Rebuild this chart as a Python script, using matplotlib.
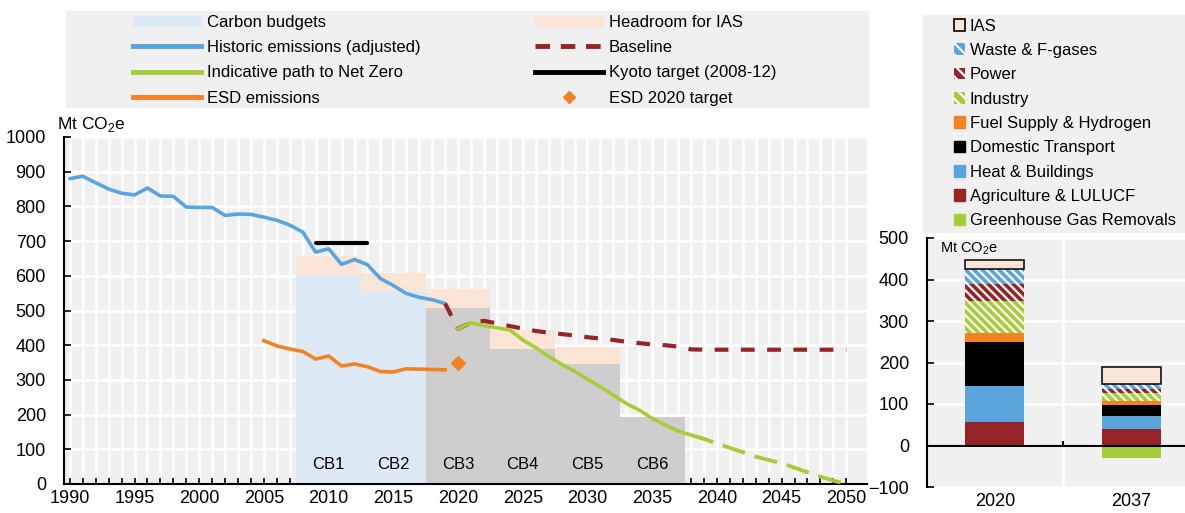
import numpy as np
import matplotlib
matplotlib.use("Agg")
import matplotlib.pyplot as plt
from matplotlib.patches import Patch, Rectangle
from matplotlib.lines import Line2D

plt.rcParams["font.family"] = ["Liberation Sans", "DejaVu Sans"]
plt.rcParams["mathtext.fontset"] = "custom"
plt.rcParams["mathtext.rm"] = "Liberation Sans"
plt.rcParams["hatch.linewidth"] = 1.6
plt.rcParams["hatch.color"] = "white"

# ---- data: left panel ----
hist_years = list(range(1990, 2020))
hist = [880, 887, 868, 850, 838, 833, 853, 830, 829, 798, 797, 797, 774, 778, 777,
        769, 760, 746, 726, 668, 678, 633, 647, 632, 592, 572, 549, 538, 531, 520]

base_years = list(range(2019, 2051))
baseline = [520, 447, 465, 470, 463, 455, 448, 441, 436, 432, 428, 423, 419, 415, 410,
            406, 402, 400, 396, 388, 387, 387, 387, 387, 387, 387, 387, 387, 387, 387,
            387, 387]

path_years = list(range(2020, 2039))
path = [447, 465, 456, 450, 444, 415, 393, 368, 345, 325, 302, 280, 256, 232, 213,
        189, 170, 153, 141]
path_ext_years = list(range(2038, 2051))
path_ext = [141, 130, 117, 104, 92, 79, 69, 60, 47, 34, 21, 10, 0]

esd_years = list(range(2005, 2020))
esd = [413, 398, 389, 382, 360, 369, 340, 346, 338, 324, 323, 332, 331, 330, 329]
esd_target_year = 2020
esd_target = 350

kyoto_years = [2009, 2013]
kyoto = [695, 695]

cb_labels = ["CB1", "CB2", "CB3", "CB4", "CB5", "CB6"]
cb_mid = [2010, 2015, 2020, 2025, 2030, 2035]
cb_values = [603, 555, 508, 390, 345, 193]
ias_headroom = [54, 53, 55, 53, 50, 0]
cb_past = [True, True, False, False, False, False]

# ---- data: right panel ----
bar_years = ["2020", "2037"]
sectors = ["Agriculture & LULUCF", "Heat & Buildings", "Domestic Transport",
           "Fuel Supply & Hydrogen", "Industry", "Power", "Waste & F-gases", "IAS"]
v2020 = [57, 87, 106, 22, 75, 41, 37, 21]
v2037 = [40, 32, 26, 9, 19, 10, 12, 42]
ggr = [0, -31]

# colours
BLUE = "#5aa5dd"
GREEN = "#a5cd39"
ORANGE = "#f58220"
DRED = "#952327"
CB_BLUE = "#dde9f5"
PINK = "#fbe5d6"
GREY = "#cfcdce"
BG = "#f0f0f0"
HATCH = "\\\\\\\\"

sector_style = {
    "Agriculture & LULUCF": dict(color=DRED),
    "Heat & Buildings": dict(color=BLUE),
    "Domestic Transport": dict(color="black"),
    "Fuel Supply & Hydrogen": dict(color=ORANGE),
    "Industry": dict(color=GREEN, hatch=HATCH),
    "Power": dict(color=DRED, hatch=HATCH),
    "Waste & F-gases": dict(color=BLUE, hatch=HATCH),
    "IAS": dict(color=PINK, edge="black"),
}

W, H = 1185, 513
fig = plt.figure(figsize=(W / 100, H / 100), dpi=100)


def px(x0, y0, x1, y1):
    return [x0 / W, 1 - y1 / H, (x1 - x0) / W, (y1 - y0) / H]


# legend backgrounds
fig.patches.append(Rectangle((66 / W, 1 - 107 / H), (868 - 66) / W, 96 / H,
                             transform=fig.transFigure, color=BG, zorder=0))
fig.patches.append(Rectangle((923 / W, 1 - 232 / H), (1185 - 923) / W, 217 / H,
                             transform=fig.transFigure, color=BG, zorder=0))

# ---- left panel ----
ax = fig.add_axes(px(64, 137, 867, 484))
ax.set_facecolor(BG)
ax.set_axisbelow(True)

for i in range(len(cb_mid)):
    ax.bar(cb_mid[i], cb_values[i], width=5, color=CB_BLUE if cb_past[i] else GREY,
           zorder=1)
    ax.bar(cb_mid[i], ias_headroom[i], width=5, bottom=cb_values[i], color=PINK, zorder=1)
    ax.text(cb_mid[i], 55, cb_labels[i], ha="center", va="center", fontsize=12, zorder=5)

ax.plot(hist_years, hist, color=BLUE, lw=2.6, zorder=3, solid_capstyle="round")
ax.plot(base_years, baseline, color=DRED, lw=3, dashes=(3.3, 3.0), zorder=3)
ax.plot(path_years, path, color=GREEN, lw=2.6, zorder=4)
ax.plot(path_ext_years, path_ext, color=GREEN, lw=2.8, dashes=(6, 2.6), zorder=4)
ax.plot(esd_years, esd, color=ORANGE, lw=2.6, zorder=3)
ax.plot(kyoto_years, kyoto, color="black", lw=3, zorder=3, solid_capstyle="round")
ax.plot([esd_target_year], [esd_target], marker="D", color=ORANGE, ms=7, ls="none",
        zorder=5)

ax.set_xlim(1989.55, 2051.6)
ax.set_ylim(0, 1000)
ax.set_xticks(range(1990, 2051, 5))
ax.set_xticks(range(1990, 2051), minor=True)
ax.set_yticks(range(0, 1001, 100))
ax.grid(True, which="both", color="white", lw=1.8)
ax.tick_params(axis="x", which="both", direction="in", length=4, width=1.2,
               labelsize=13, pad=4)
ax.tick_params(axis="y", direction="in", length=5, width=1.2, labelsize=13, pad=13)
for s in ["top", "right"]:
    ax.spines[s].set_visible(False)
for s in ["left", "bottom"]:
    ax.spines[s].set_linewidth(1.5)
fig.text(57 / W, 1 - 125 / H, "Mt CO$_\\mathrm{2}$e", fontsize=12.5, va="center")

# left legends (two columns)
col1 = [Patch(color=CB_BLUE), Line2D([], [], color=BLUE, lw=3.5),
        Line2D([], [], color=GREEN, lw=3.5), Line2D([], [], color=ORANGE, lw=3.5)]
lab1 = ["Carbon budgets", "Historic emissions (adjusted)", "Indicative path to Net Zero",
        "ESD emissions"]
col2 = [Patch(color=PINK), Line2D([], [], color=DRED, lw=3.5, dashes=(3, 2.2)),
        Line2D([], [], color="black", lw=3.5),
        Line2D([], [], color=ORANGE, marker="D", ms=6, ls="none")]
lab2 = ["Headroom for IAS", "Baseline", "Kyoto target (2008-12)", "ESD 2020 target"]
for handles, labels, x0 in [(col1, lab1, 131), (col2, lab2, 533)]:
    fig.legend(handles, labels, loc="upper left", bbox_to_anchor=(x0 / W, 1 - 13 / H),
               frameon=False, fontsize=12, handlelength=4.1, handleheight=0.6,
               handletextpad=0.35, labelspacing=0.62, borderpad=0.1,
               borderaxespad=0)

# ---- right panel ----
ax2 = fig.add_axes(px(927, 238, 1185, 487))
ax2.set_facecolor(BG)
ax2.set_axisbelow(True)
xpos = np.arange(len(bar_years))
bottom = np.zeros(len(bar_years))
for k, name in enumerate(sectors):
    vals = np.array([v2020[k], v2037[k]])
    st = sector_style[name]
    if "hatch" in st:
        ax2.bar(xpos, vals, width=0.43, bottom=bottom, color=st["color"],
                hatch=st["hatch"], edgecolor="white", linewidth=0, zorder=2)
    elif "edge" in st:
        ax2.bar(xpos, vals, width=0.43, bottom=bottom, color=st["color"],
                edgecolor=st["edge"], linewidth=1.1, zorder=2)
    else:
        ax2.bar(xpos, vals, width=0.43, bottom=bottom, color=st["color"],
                linewidth=0, zorder=2)
    bottom += vals
ax2.bar(xpos, ggr, width=0.43, color=GREEN, linewidth=0, zorder=2)
ax2.axhline(0, color="black", lw=1.5, zorder=3)
ax2.axvline(0.5, color="white", lw=1.8, zorder=0.5)
ax2.plot([0.5, 0.5], [0, 8], color="black", lw=1.5, zorder=3)

ax2.set_xlim(-0.495, 1.39)
ax2.set_ylim(-100, 500)
ax2.set_yticks(range(-100, 501, 100))
ax2.set_xticks(xpos)
ax2.set_xticklabels(bar_years)
ax2.yaxis.grid(True, color="white", lw=1.8)
ax2.tick_params(axis="y", direction="in", length=5, width=1.2, labelsize=13, pad=13)
ax2.tick_params(axis="x", length=0, labelsize=13, pad=4)
for s in ["top", "right", "bottom"]:
    ax2.spines[s].set_visible(False)
ax2.spines["left"].set_linewidth(1.5)
ax2.text(0.05, 0.99, "Mt CO$_\\mathrm{2}$e", transform=ax2.transAxes, fontsize=10.5,
         va="top", ha="left")

# right legend
rhandles, rlabels = [], []
for name in sectors[::-1]:
    st = sector_style[name]
    if "hatch" in st:
        h = Patch(facecolor=st["color"], hatch="\\\\\\", edgecolor="white", lw=0)
    elif "edge" in st:
        h = Patch(facecolor=st["color"], edgecolor="black", lw=1.2)
    else:
        h = Patch(color=st["color"])
    rhandles.append(h)
    rlabels.append(name)
rhandles.append(Patch(color=GREEN))
rlabels.append("Greenhouse Gas Removals")
fig.legend(rhandles, rlabels, loc="upper left", bbox_to_anchor=(952 / W, 1 - 17 / H),
           frameon=False, fontsize=12, handlelength=0.7, handleheight=0.7,
           handletextpad=0.25, labelspacing=0.56, borderpad=0.1, borderaxespad=0)

fig.savefig("out.png", dpi=100)
